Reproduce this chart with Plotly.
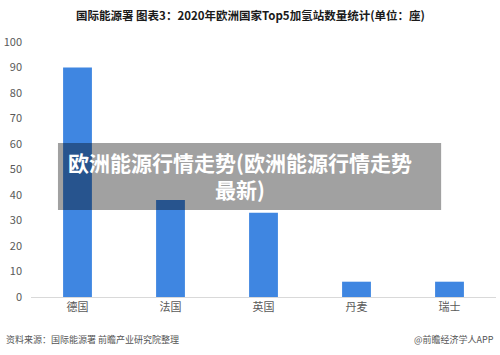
import plotly.graph_objects as go

categories = ["德国", "法国", "英国", "丹麦", "瑞士"]
values = [90, 38, 33, 6, 6]
y_ticks = [0, 10, 20, 30, 40, 50, 60, 70, 80, 90, 100]

title_text = "国际能源署 图表3：2020年欧洲国家Top5加氢站数量统计(单位：座)"
overlay_text = "欧洲能源行情走势(欧洲能源行情走势<br>最新)"
source_text = "资料来源：国际能源署 前瞻产业研究院整理"
brand_text = "@前瞻经济学人APP"

FONT = "Noto Sans CJK SC"

fig = go.Figure(go.Bar(
    x=categories, y=values, width=0.31,
    marker=dict(color="#3f86e1", line=dict(width=0)),
))

fig.update_layout(
    width=500, height=355,
    margin=dict(l=31, r=4, t=42, b=58),
    paper_bgcolor="white", plot_bgcolor="white",
    showlegend=False,
    font=dict(family=FONT, color="#595959", size=11),
    xaxis=dict(showgrid=False, showline=True, linecolor="#d9d9d9", linewidth=1,
               ticks="", tickfont=dict(size=11, color="#595959"), fixedrange=True),
    yaxis=dict(range=[0, 100], tickvals=y_ticks, showgrid=False, zeroline=False,
               showline=False, ticks="", tickfont=dict(size=11, color="#595959"),
               ticklabelstandoff=8),
    shapes=[dict(type="rect", xref="paper", yref="paper",
                 x0=0.058, x1=0.882, y0=0.341, y1=0.604,
                 fillcolor="rgba(0,0,0,0.37)", line=dict(width=0), layer="above")],
    annotations=[
        dict(text="<b>" + title_text + "</b>", xref="paper", yref="paper",
             x=0.471, xanchor="center", y=1.105, yanchor="middle",
             showarrow=False, font=dict(size=11.5, color="#1a1a1a", family=FONT)),
        dict(text="<b>" + overlay_text + "</b>", xref="paper", yref="paper",
             x=0.449, xanchor="center", y=0.478, yanchor="middle",
             showarrow=False, font=dict(size=21, color="white", family=FONT)),
        dict(text=source_text, xref="paper", yref="paper",
             x=-0.058, xanchor="left", y=-0.165, yanchor="middle",
             showarrow=False, font=dict(size=9, color="#555555", family=FONT)),
        dict(text=brand_text, xref="paper", yref="paper",
             x=1.0, xanchor="right", y=-0.165, yanchor="middle",
             showarrow=False, font=dict(size=9, color="#555555", family=FONT)),
    ],
)

fig.write_html("out.html")
